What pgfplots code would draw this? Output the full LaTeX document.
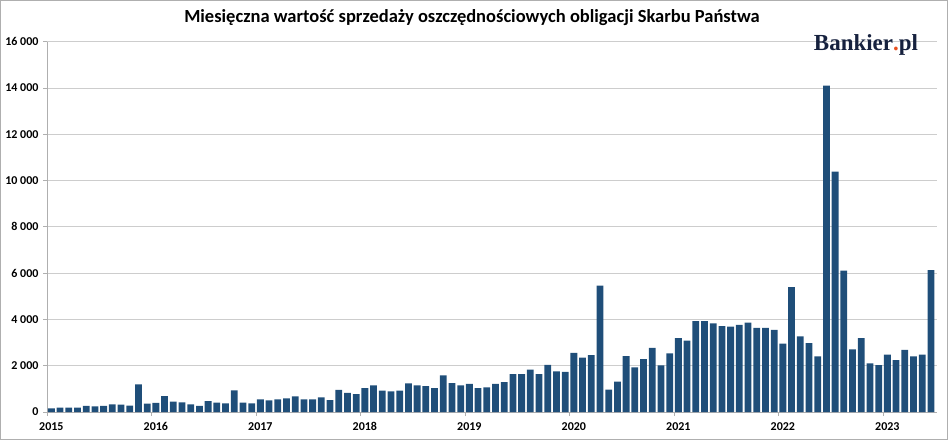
\documentclass[border=0pt]{standalone}
\usepackage{fontspec}
\setmainfont{Carlito}
\newfontfamily\logofont{Liberation Serif}
\usepackage{pgfplots}
\usepackage{pgfplotstable}
\pgfplotsset{compat=1.18}
\definecolor{barblue}{RGB}{31,78,121}
\definecolor{gridgray}{RGB}{205,205,205}
\definecolor{axisgray}{RGB}{175,175,175}
\definecolor{logonavy}{RGB}{22,33,62}
\definecolor{logodot}{RGB}{232,80,30}
\pgfplotstableread{
v
160
185
185
185
270
245
270
330
315
275
1195
360
390
690
445
420
330
270
470
400
375
930
400
370
545
500
545
590
670
545
545
630
515
960
830
770
1035
1150
920
890
920
1235
1150
1120
1035
1580
1250
1150
1210
1035
1065
1210
1295
1640
1640
1830
1640
2040
1760
1730
2560
2345
2460
5460
970
1315
2415
1930
2290
2775
2015
2530
3195
3080
3930
3930
3830
3715
3685
3770
3860
3630
3630
3545
2950
5400
3270
2980
2405
14100
10390
6105
2710
3195
2100
2030
2475
2245
2680
2405
2475
6135
}\sales
\begin{document}
\begin{tikzpicture}[x=1pt,y=1pt]
\useasboundingbox (0,0) rectangle (948,440);
\draw[axisgray, line width=1pt] (0.5,0.5) rectangle (947.5,439.5);
\begin{axis}[
  at={(47pt,28pt)}, anchor=south west,
  scale only axis, width=890pt, height=370.3pt,
  xmin=0, xmax=102.2, ymin=0, ymax=16000,
  enlargelimits=false,
  scaled y ticks=false,
  axis lines*=left,
  axis line style={draw=axisgray, line width=0.8pt},
  tick align=outside, major tick length=4pt,
  tick style={draw=axisgray, line width=0.8pt},
  ytick={0,2000,4000,6000,8000,10000,12000,14000,16000},
  yticklabels={0,2 000,4 000,6 000,8 000,10 000,12 000,14 000,16 000},
  xtick={0,12,24,36,48,60,72,84,96},
  xticklabels={2015,2016,2017,2018,2019,2020,2021,2022,2023},
  xticklabel style={xshift=4.35pt, yshift=-3pt},
  yticklabel style={xshift=-1pt},
  ticklabel style={font=\fontsize{12}{14}\selectfont\bfseries, text=black},
  ymajorgrids,
  grid style={draw=gridgray, line width=0.8pt},
]
\addplot[ybar, bar width=0.78, fill=barblue, draw=none] table[x expr=\coordindex+0.5, y=v] {\sales};
\end{axis}
\node[font=\fontsize{18.5}{21}\selectfont\bfseries] at (472,422) {Miesięczna wartość sprzedaży oszczędnościowych obligacji Skarbu Państwa};
\node[anchor=base, font=\logofont\fontsize{23}{26}\selectfont\bfseries, text=logonavy, inner sep=0pt] at (866,389) {Bankier\textcolor{logodot}{.}pl};
\end{tikzpicture}
\end{document}
